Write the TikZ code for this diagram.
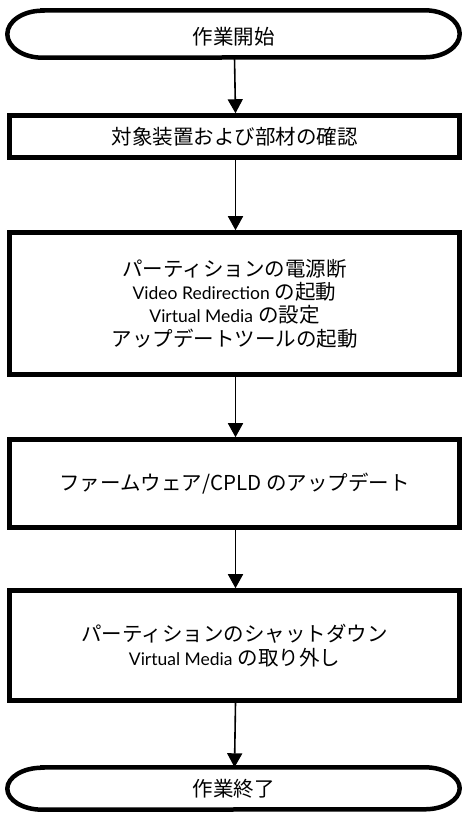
\documentclass[tikz,border=0pt]{standalone}
\usepackage{fontspec}
\setmainfont{Noto Sans CJK JP}
\newfontfamily\latin{Lato}
\usetikzlibrary{arrows.meta}
\begin{document}
\begin{tikzpicture}[x=1pt,y=1pt,
  box/.style={draw,line width=4.5pt,minimum width=450pt,inner sep=0pt,align=center,
    font=\fontsize{20.5}{23.3}\selectfont},
  termshape/.style={minimum width=452pt,inner sep=0pt},
  termline/.style={line width=4.5pt},
  lbl/.style={font=\fontsize{20.5}{23.3}\selectfont,inner sep=0pt},
  arr/.style={-{Triangle[width=15pt,length=14pt]},line width=1.6pt}]
\useasboundingbox (0,0) rectangle (464,813);
\newcommand{\lw}[1]{{\latin\fontsize{17.5}{23.3}\selectfont #1}\hspace{5pt}}

% start terminal
\node[termshape,minimum height=47pt] (start) at (233.5,779) {};
\draw[termline] ([xshift=35pt]start.north west) -- ([xshift=-35pt]start.north east)
  arc[start angle=90,end angle=-90,x radius=35pt,y radius=23.5pt]
  -- ([xshift=35pt]start.south west)
  arc[start angle=270,end angle=90,x radius=35pt,y radius=23.5pt] -- cycle;
\node[lbl] (startlabel) at ([yshift=-3pt]start.center) {作業開始};

\node[box,minimum height=42pt] (b1) at (234.5,676.5) {\raisebox{-3pt}{対象装置および部材の確認}};
\node[box,minimum height=142pt] (b2) at (234.5,509.5)
  {パーティションの電源断\\ \lw{Video Redirection}の起動\\ \lw{Virtual Media}の設定\\ アップデートツールの起動};
\node[box,minimum height=88pt] (b3) at (234.5,329.5) {\raisebox{-3pt}{ファームウェア/CPLD のアップデート}};
\node[box,minimum height=110pt] (b4) at (234.5,167.5)
  {パーティションのシャットダウン\\ \lw{Virtual Media}の取り外し};

% end terminal
\node[termshape,minimum height=42pt] (end) at (233.5,24.5) {};
\draw[termline] ([xshift=35pt]end.north west) -- ([xshift=-35pt]end.north east)
  arc[start angle=90,end angle=-90,x radius=35pt,y radius=21pt]
  -- ([xshift=35pt]end.south west)
  arc[start angle=270,end angle=90,x radius=35pt,y radius=21pt] -- cycle;
\node[lbl] (endlabel) at ([yshift=0pt]end.center) {作業終了};

\draw[arr] ([xshift=1pt]start.south) -- ([xshift=1pt]b1.north);
\draw[arr] ([xshift=1pt]b1.south) -- ([xshift=1pt]b2.north);
\draw[arr] ([xshift=1pt]b2.south) -- ([xshift=1pt]b3.north);
\draw[arr] ([xshift=1pt]b3.south) -- ([xshift=1pt]b4.north);
\draw[arr] ([xshift=1pt]b4.south) -- ([xshift=1pt]end.north);
\end{tikzpicture}
\end{document}
